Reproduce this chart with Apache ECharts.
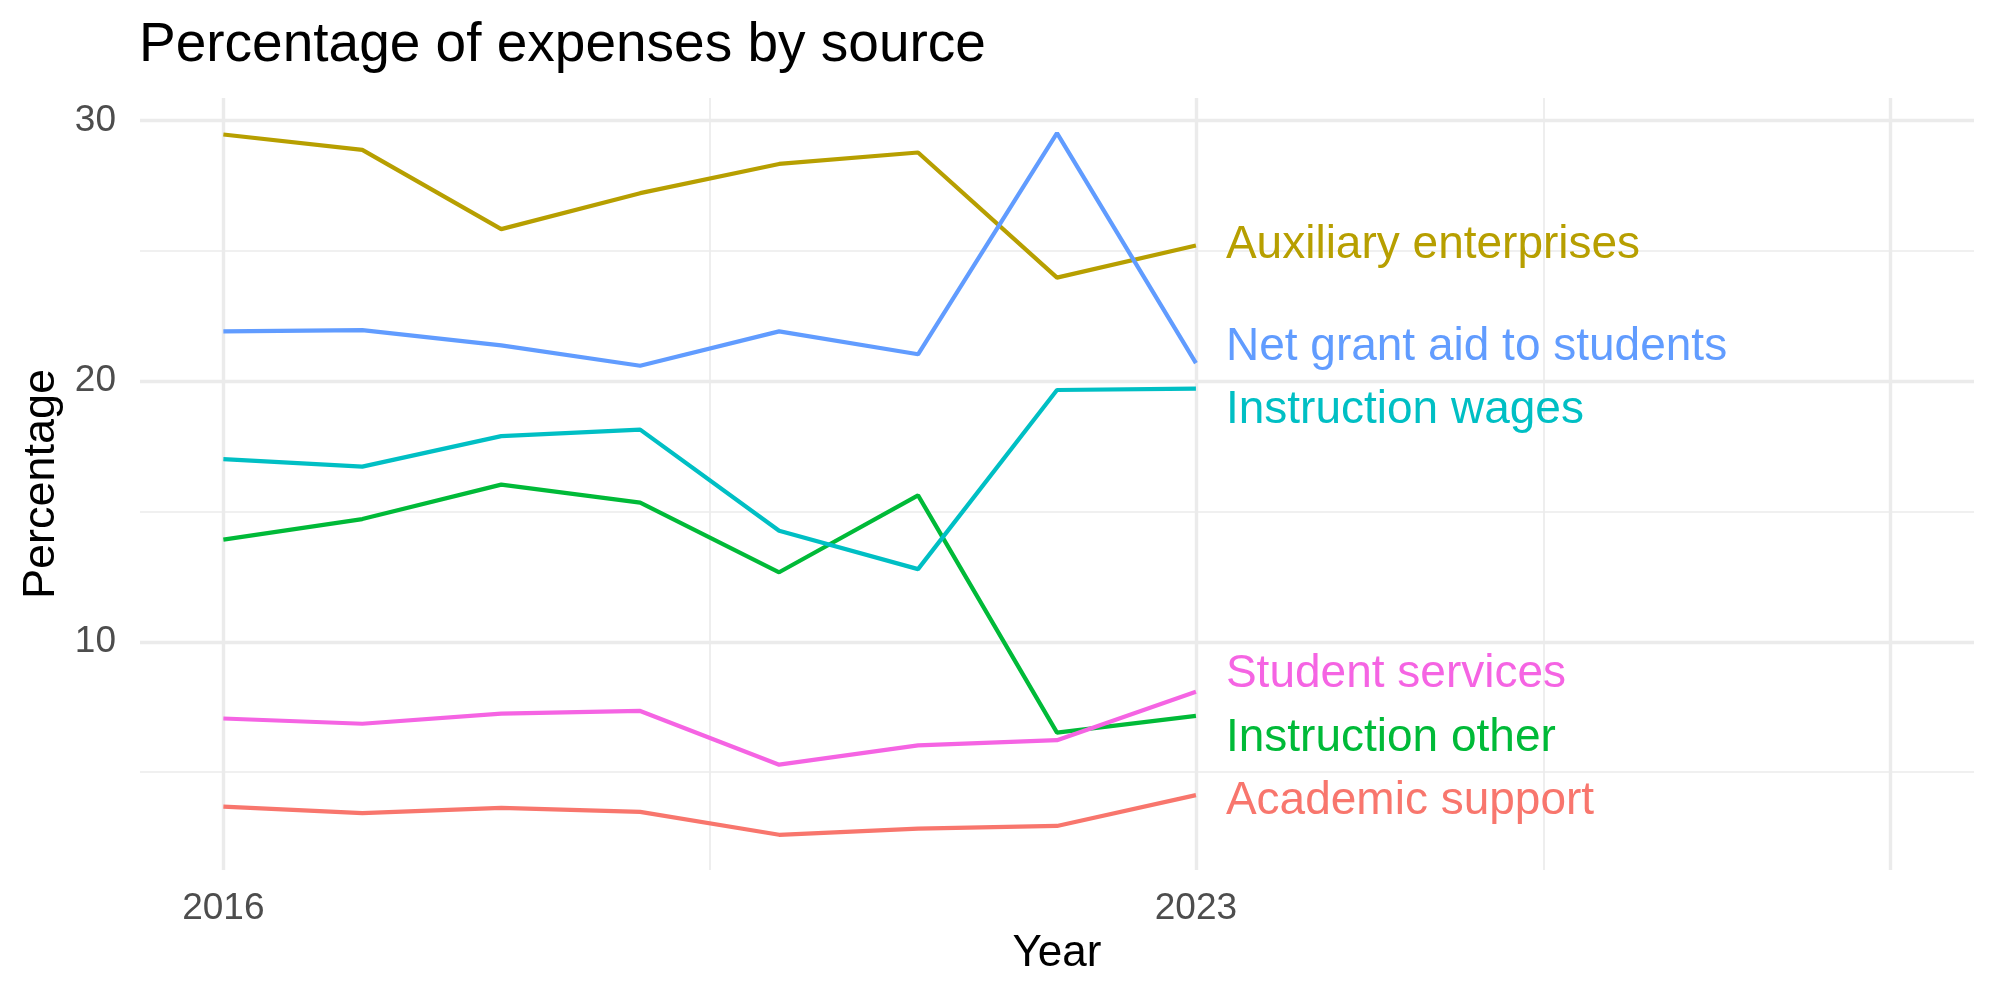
<!DOCTYPE html>
<html>
<head>
    <meta charset="utf-8">
    <title>Percentage of expenses by source</title>
    <script src="https://cdn.jsdelivr.net/npm/echarts@6/dist/echarts.min.js"></script>
    <style>
        html, body { margin: 0; padding: 0; background: #ffffff; }
        #chart { width: 2000px; height: 1000px; }
    </style>
</head>
<body>
<div id="chart"></div>
<script>
    // values
    var years = [2016, 2017, 2018, 2019, 2020, 2021, 2022, 2023];
    var academicSupport = [3.68, 3.43, 3.63, 3.48, 2.60, 2.84, 2.94, 4.12];
    var auxiliaryEnterprises = [29.46, 28.87, 25.83, 27.21, 28.33, 28.77, 23.97, 25.2];
    var instructionOther = [13.92, 14.71, 16.03, 15.34, 12.67, 15.62, 6.52, 7.16];
    var instructionWages = [17.01, 16.72, 17.89, 18.14, 14.26, 12.79, 19.66, 19.71];
    var netGrantAid = [21.91, 21.96, 21.37, 20.59, 21.91, 21.03, 29.51, 20.69];
    var studentServices = [7.06, 6.86, 7.25, 7.35, 5.29, 6.03, 6.23, 8.09];

    var seriesNames = ['Academic support', 'Auxiliary enterprises', 'Instruction other',
        'Instruction wages', 'Net grant aid to students', 'Student services'];
    var seriesValues = [academicSupport, auxiliaryEnterprises, instructionOther,
        instructionWages, netGrantAid, studentServices];
    var colors = ['#F8766D', '#B79F00', '#00BA38', '#00BFC4', '#619CFF', '#F564E3'];

    // repelled label heights (in data units) at the last year
    var labelY = [3.87, 25.2, 6.32, 18.87, 21.3, 8.77];

    var xTickLabels = [2016, 2023];
    var yTickLabels = [10, 20, 30];
    var xMajorGrid = [2016, 2023, 2028];
    var xMinorGrid = [2019.5, 2025.5];
    var yMajorGrid = [10, 20, 30];
    var yMinorGrid = [5, 15, 25];

    var FONT = 'Liberation Sans, Arial, sans-serif';
    var chart = echarts.init(document.getElementById('chart'), null, {renderer: 'canvas'});

    function gridLines(vals, axis, width) {
        return vals.map(function (v) {
            var d = {};
            d[axis] = v;
            d.lineStyle = {color: '#EBEBEB', width: width, type: 'solid'};
            return d;
        });
    }

    var series = [{
        name: 'grid',
        type: 'line',
        data: [],
        silent: true,
        z: 0,
        markLine: {
            silent: true,
            z: 0,
            symbol: 'none',
            animation: false,
            label: {show: false},
            data: [].concat(
                gridLines(yMinorGrid, 'yAxis', 1.7),
                gridLines(xMinorGrid, 'xAxis', 1.7),
                gridLines(yMajorGrid, 'yAxis', 3.4),
                gridLines(xMajorGrid, 'xAxis', 3.4)
            )
        }
    }];

    seriesNames.forEach(function (name, i) {
        series.push({
            name: name,
            type: 'line',
            z: 2,
            symbol: 'none',
            lineStyle: {color: colors[i], width: 4.2},
            data: years.map(function (y, j) { return [y, seriesValues[i][j]]; })
        });
    });

    series.push({
        name: 'labels',
        type: 'scatter',
        symbolSize: 0,
        z: 3,
        silent: true,
        itemStyle: {opacity: 1},
        data: seriesNames.map(function (name, i) {
            return {
                name: name,
                value: [years[years.length - 1], labelY[i]],
                label: {color: colors[i]}
            };
        }),
        label: {
            show: true,
            position: 'right',
            distance: 30,
            formatter: '{b}',
            fontFamily: FONT,
            fontSize: 46
        }
    });

    var option = {
        animation: false,
        backgroundColor: '#ffffff',
        title: {
            text: 'Percentage of expenses by source',
            left: 134,
            top: 13,
            textStyle: {fontFamily: FONT, fontSize: 55, fontWeight: 'normal', color: '#000000'}
        },
        grid: {left: 140, right: 26, top: 98, bottom: 130},
        xAxis: {
            type: 'value',
            min: 2015.4,
            max: 2028.6,
            name: 'Year',
            nameLocation: 'middle',
            nameGap: 58,
            nameTextStyle: {fontFamily: FONT, fontSize: 44, color: '#000000'},
            axisLine: {show: false},
            axisTick: {show: false},
            splitLine: {show: false},
            axisLabel: {
                customValues: xTickLabels,
                formatter: function (v) { return String(v); },
                margin: 20,
                fontFamily: FONT,
                fontSize: 37,
                color: '#4D4D4D'
            }
        },
        yAxis: {
            type: 'value',
            min: 1.25,
            max: 30.86,
            name: 'Percentage',
            nameLocation: 'middle',
            nameGap: 76,
            nameTextStyle: {fontFamily: FONT, fontSize: 45, color: '#000000'},
            axisLine: {show: false},
            axisTick: {show: false},
            splitLine: {show: false},
            axisLabel: {
                customValues: yTickLabels,
                margin: 24,
                fontFamily: FONT,
                fontSize: 37,
                color: '#4D4D4D'
            }
        },
        series: series
    };

    chart.setOption(option);
</script>
</body>
</html>
